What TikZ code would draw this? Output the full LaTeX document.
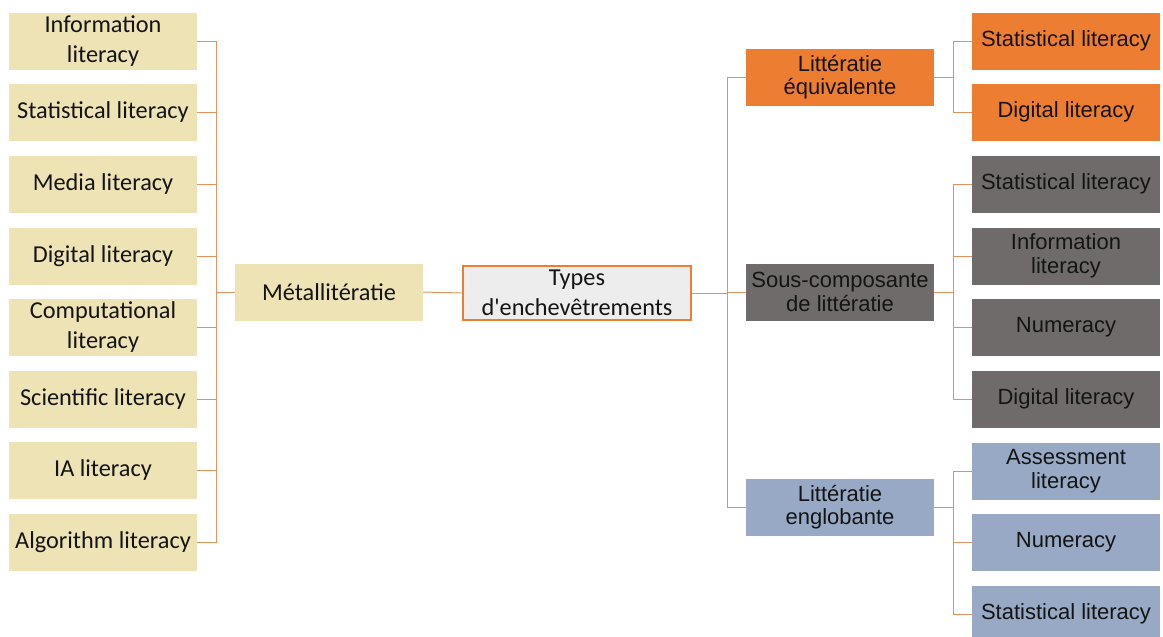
\documentclass[tikz,border=0pt]{standalone}
\usepackage{fontspec}
\setmainfont{Carlito}
\newfontfamily\arialfont{Liberation Sans}
\usepackage{tikz}
\definecolor{beige}{HTML}{EEE3B5}
\definecolor{orangebox}{HTML}{ED7D31}
\definecolor{graybox}{HTML}{6F6B6B}
\definecolor{bluebox}{HTML}{97A9C4}
\definecolor{typesfill}{HTML}{EDEDED}
\definecolor{linkcol}{HTML}{E2925E}
\tikzstyle{box}=[rectangle, minimum width=188pt, minimum height=57pt, inner sep=1pt, align=center, text=black!92]
\tikzstyle{leftbox}=[box, fill=beige, font=\fontsize{24.3}{29.5}\selectfont]
\tikzstyle{orangeitem}=[box, fill=orangebox, font=\arialfont\fontsize{22}{23.5}\selectfont]
\tikzstyle{grayitem}=[box, fill=graybox, font=\arialfont\fontsize{22}{23.5}\selectfont]
\tikzstyle{blueitem}=[box, fill=bluebox, font=\arialfont\fontsize{22}{23.5}\selectfont]
\tikzstyle{typesbox}=[box, minimum width=228pt, minimum height=54pt, fill=typesfill, draw=orangebox, line width=2.8pt, font=\fontsize{24.3}{29.5}\selectfont]
\tikzstyle{link}=[draw=linkcol, line width=1pt]

\begin{document}
\begin{tikzpicture}[x=1pt, y=-1pt]
		   \useasboundingbox (0,0) rectangle (1163,637);
		   \begin{scope}
			   \node (0) at (577, 293)[typesbox] {Types\\d\textquotesingle enchevêtrements};
			   \node (1) at (329, 292)[leftbox] {Métallitératie};
			   \node (2) at (103, 41)[leftbox] {Information\\literacy};
			   \node (3) at (103, 112)[leftbox] {Statistical literacy};
			   \node (4) at (103, 184)[leftbox] {Media literacy};
			   \node (5) at (103, 256)[leftbox] {Digital literacy};
			   \node (6) at (103, 327)[leftbox] {Computational\\literacy};
			   \node (7) at (103, 399)[leftbox] {Scientific literacy};
			   \node (8) at (103, 470)[leftbox] {IA literacy};
			   \node (9) at (103, 542)[leftbox] {Algorithm literacy};
		   \end{scope}
		   \begin{scope}
			   \node (10) at (840, 77)[orangeitem] {Littératie\\équivalente};
			   \node (11) at (840, 292)[grayitem] {Sous-composante\\de littératie};
			   \node (12) at (840, 507)[blueitem] {Littératie\\englobante};
			   \node (13) at (1066, 41)[orangeitem] {Statistical literacy};
			   \node (14) at (1066, 112)[orangeitem] {Digital literacy};
			   \node (15) at (1066, 184)[grayitem] {Statistical literacy};
			   \node (16) at (1066, 256)[grayitem] {Information\\literacy};
			   \node (17) at (1066, 327)[grayitem] {Numeracy};
			   \node (18) at (1066, 399)[grayitem] {Digital literacy};
			   \node (19) at (1066, 471)[blueitem] {Assessment\\literacy};
			   \node (20) at (1066, 542)[blueitem] {Numeracy};
			   \node (21) at (1066, 614)[blueitem] {Statistical literacy};
		   \end{scope}
		   \begin{scope}
			   \path [link] (1.east) -- (0.west);
			   \foreach \n in {2,...,9}
			   	\path [link] (\n.east) -- ++(19,0) |- (1.west);
			   \foreach \n in {10,11,12}
			   	\path [link] (0.east) -- ++(35,0) |- (\n.west);
			   \foreach \n in {13,14}
			   	\path [link] (10.east) -- ++(19,0) |- (\n.west);
			   \foreach \n in {15,...,18}
			   	\path [link] (11.east) -- ++(19,0) |- (\n.west);
			   \foreach \n in {19,20,21}
			   	\path [link] (12.east) -- ++(19,0) |- (\n.west);
		   \end{scope}
	   \end{tikzpicture}
\end{document}
